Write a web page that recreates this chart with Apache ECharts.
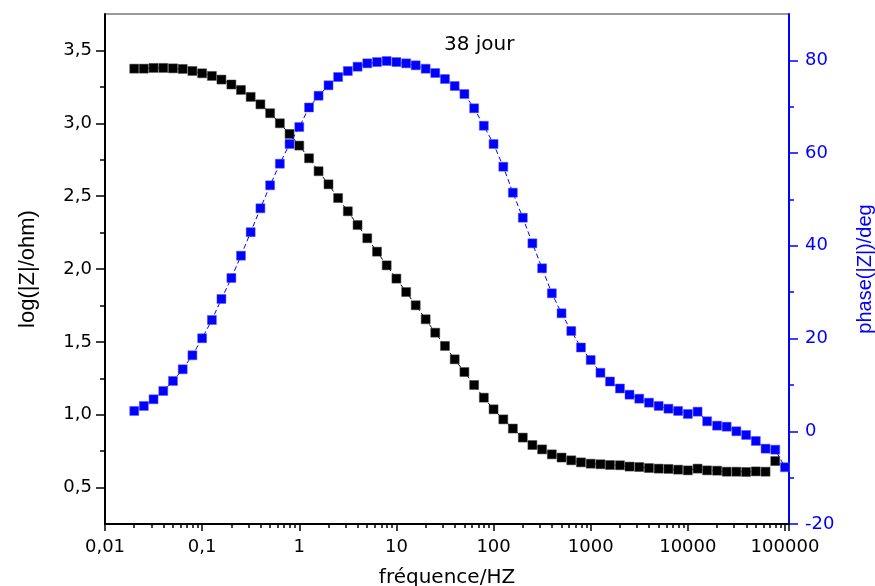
<!DOCTYPE html>
<html>
<head>
<meta charset="utf-8">
<script src="https://cdn.jsdelivr.net/npm/echarts@6/dist/echarts.min.js"></script>
<style>
html,body{margin:0;padding:0;background:#fff;}
#chart{width:875px;height:586px;}
</style>
</head>
<body>
<div id="chart"></div>
<script>
// Frequencies (Hz), 10 points per decade
const freqHz = [0.02,0.0251,0.0316,0.0398,0.0501,0.0631,0.0794,
  0.1,0.126,0.158,0.2,0.251,0.316,0.398,0.501,0.631,0.794,
  1,1.26,1.58,2,2.51,3.16,3.98,5.01,6.31,7.94,
  10,12.6,15.8,20,25.1,31.6,39.8,50.1,63.1,79.4,
  100,126,158,200,251,316,398,501,631,794,
  1000,1260,1580,2000,2510,3160,3980,5010,6310,7940,
  10000,12600,15800,20000,25100,31600,39800,50100,63100,79400,
  100000];

// log(|Z|/ohm) — black squares
const logZ = [3.375,3.375,3.380,3.380,3.377,3.373,3.359,
  3.343,3.325,3.300,3.266,3.229,3.181,3.130,3.069,3.000,2.927,
  2.847,2.760,2.671,2.581,2.487,2.396,2.302,2.211,2.119,2.025,
  1.934,1.842,1.751,1.655,1.563,1.472,1.380,1.293,1.204,1.117,
  1.037,0.968,0.905,0.843,0.792,0.762,0.728,0.706,0.687,0.673,
  0.664,0.660,0.655,0.653,0.644,0.641,0.634,0.630,0.628,0.623,
  0.618,0.630,0.618,0.616,0.609,0.609,0.607,0.611,0.609,0.682,
  null];

// phase(|Z|)/deg — blue squares
const phaseDeg = [4.38,5.46,6.90,8.69,10.85,13.37,16.39,
  20.06,24.00,28.53,33.06,37.87,42.94,48.09,53.05,57.71,61.96,
  65.62,69.83,72.37,74.62,76.41,77.70,78.63,79.36,79.64,79.86,
  79.64,79.36,78.93,78.20,77.27,75.98,74.47,72.74,69.66,65.90,
  61.96,57.06,51.46,46.06,40.54,35.15,29.76,25.45,21.63,18.07,
  15.38,12.62,10.74,9.23,7.89,7.03,6.17,5.46,4.87,4.38,
  3.73,4.23,2.16,1.21,0.99,0.00,-0.80,-2.09,-3.75,-3.97,
  -7.76];

// Axis ticks / labels
const xMin = 0.01, xMax = 110000;
const leftMajor = [0.5,1.0,1.5,2.0,2.5,3.0,3.5];
const leftMinor = [0.75,1.25,1.75,2.25,2.75,3.25];
const rightMajor = [-20,0,20,40,60,80];
const rightMinor = [-10,10,30,50,70];
const xMinorMult = [2,3,4,5,6,7,8,9];
const xDecades = [-2,-1,0,1,2,3,4];

const titleText = '38 jour';
const xName = 'fréquence/HZ';
const yLeftName = 'log(|Z|/ohm)';
const yRightName = 'phase(|Z|)/deg';

const FONT = 'DejaVu Sans';
const FONT_ROT = 'Liberation Sans';
const BLUE = '#0000ff';

const xMinorTicks = [];
xDecades.forEach(d => xMinorMult.forEach(k => xMinorTicks.push(d + Math.log10(k))));

function commaFmt(v, digits) { return v.toFixed(digits).replace('.', ','); }

const chart = echarts.init(document.getElementById('chart'), null, {renderer: 'canvas'});
chart.setOption({
  animation: false,
  backgroundColor: '#ffffff',
  title: {
    text: titleText, left: 439, top: 30,
    textStyle: {fontFamily: FONT, fontSize: 20, fontWeight: 'normal', color: '#000'}
  },
  grid: {left: 105, right: 86, top: 14, bottom: 62, show: true, borderColor: '#333', borderWidth: 1,
    containLabel: false, outerBoundsMode: 'none'},
  xAxis: [{
    type: 'log', logBase: 10, min: xMin, max: xMax, splitNumber: 7, position: 'bottom',
    axisLine: {onZero: false, lineStyle: {color: '#000', width: 2}},
    axisTick: {length: 7, lineStyle: {color: '#000', width: 1.5}},
    splitLine: {show: false},
    axisLabel: {
      margin: 14, color: '#000', fontFamily: FONT, fontSize: 18,
      formatter: function (v) {
        const e = Math.log10(v);
        if (Math.abs(e - Math.round(e)) > 1e-6 || v > 100001) return '';
        const r = Math.round(e);
        if (r < 0) return '0,' + '0'.repeat(-r - 1) + '1';
        return String(Math.round(v));
      }
    },
    name: xName, nameLocation: 'middle', nameGap: 44,
    nameTextStyle: {fontFamily: FONT, fontSize: 20, color: '#000'}
  }, {
    type: 'value', min: Math.log10(xMin), max: Math.log10(xMax), position: 'bottom',
    axisLine: {show: false, onZero: false},
    axisTick: {show: true, customValues: xMinorTicks, length: 4, lineStyle: {color: '#000', width: 1.5}},
    axisLabel: {show: false}, splitLine: {show: false}
  }],
  yAxis: [{
    type: 'value', position: 'left', min: 0.25, max: 3.75,
    axisLine: {show: true, onZero: false, lineStyle: {color: '#000', width: 2}},
    axisTick: {show: true, customValues: leftMajor, length: 9, lineStyle: {color: '#000', width: 1.5}},
    axisLabel: {customValues: leftMajor, margin: 13, color: '#000', fontFamily: FONT, fontSize: 18,
      formatter: v => commaFmt(v, 1)},
    splitLine: {show: false},
    name: yLeftName, nameLocation: 'middle', nameGap: 66, nameRotate: 90,
    nameTextStyle: {fontFamily: FONT_ROT, fontSize: 22, color: '#000'}
  }, {
    type: 'value', position: 'right', min: -20, max: 90,
    axisLine: {show: true, onZero: false, lineStyle: {color: BLUE, width: 2}},
    axisTick: {show: true, customValues: rightMajor, length: 9, lineStyle: {color: BLUE, width: 1.5}},
    axisLabel: {customValues: rightMajor, margin: 16, color: BLUE, fontFamily: FONT, fontSize: 18,
      formatter: v => String(v)},
    splitLine: {show: false},
    name: yRightName, nameLocation: 'middle', nameGap: 66, nameRotate: 90,
    nameTextStyle: {fontFamily: FONT_ROT, fontSize: 20, color: BLUE}
  }, {
    type: 'value', position: 'left', min: 0.25, max: 3.75,
    axisLine: {show: false, onZero: false},
    axisTick: {show: true, customValues: leftMinor, length: 5, lineStyle: {color: '#000', width: 1.5}},
    axisLabel: {show: false}, splitLine: {show: false}
  }, {
    type: 'value', position: 'right', min: -20, max: 90,
    axisLine: {show: false, onZero: false},
    axisTick: {show: true, customValues: rightMinor, length: 5, lineStyle: {color: BLUE, width: 1.5}},
    axisLabel: {show: false}, splitLine: {show: false}
  }],
  series: [{
    name: yLeftName, type: 'line', xAxisIndex: 0, yAxisIndex: 0,
    data: freqHz.map((f, i) => [f, logZ[i]]),
    symbol: 'rect', symbolSize: 9, showSymbol: true,
    lineStyle: {color: '#000', width: 1, type: [4, 3]},
    itemStyle: {color: '#000', borderColor: '#444', borderWidth: 0.5},
    connectNulls: false, z: 2
  }, {
    name: yRightName, type: 'line', xAxisIndex: 0, yAxisIndex: 1,
    data: freqHz.map((f, i) => [f, phaseDeg[i]]),
    symbol: 'rect', symbolSize: 9, showSymbol: true,
    lineStyle: {color: BLUE, width: 1, type: [5, 3]},
    itemStyle: {color: BLUE, borderColor: '#5555ff', borderWidth: 0.5},
    z: 3
  }]
});
</script>
</body>
</html>
